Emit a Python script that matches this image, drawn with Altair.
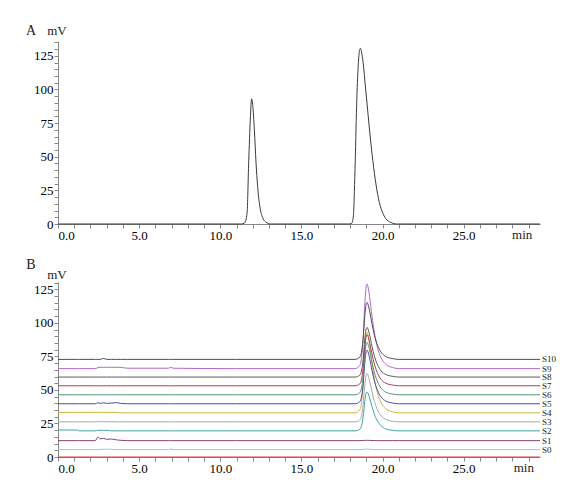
import altair as alt
import pandas as pd

# ---------------- Panel A ----------------
a_time = [0, 11.3, 11.5, 11.65, 11.75, 11.85, 11.93, 12.0, 12.1, 12.2, 12.3, 12.45, 12.6, 12.8, 13.1,
          17.9, 18.1, 18.2, 18.3, 18.4, 18.5, 18.58, 18.64, 18.7, 18.8, 18.95, 19.1, 19.22, 19.4,
          19.6, 19.8, 20.0, 20.2, 20.5, 20.9, 29.7]
a_mv = [0, 0, 0.8, 8, 46, 78, 93, 88, 70, 46, 28, 12, 5, 1.5, 0,
        0, 0.5, 6, 40, 88, 118, 129, 130.5, 128, 120, 101, 82, 67, 47,
        29, 16, 8.5, 4, 1.2, 0, 0]

# ---------------- Panel B ----------------
b_time = [0, 1.2, 1.3, 2.3, 2.45, 2.6, 2.8, 3.0, 3.3, 3.6, 3.9, 4.3, 6.8, 6.95, 7.1, 11.0,
          18.3, 18.6, 18.8, 18.9, 19.0, 19.05, 19.1, 19.2, 19.35, 19.5, 19.7, 19.9, 20.2, 20.6, 21.0, 29.7]

s10 = [72.8, 72.8, 72.8, 72.8, 72.8, 72.8, 73.5, 72.8, 72.8, 72.8, 72.8, 72.8, 72.8, 72.8, 72.8, 72.8,
       72.8, 74.5, 87.7, 104.7, 114.5, 115.3, 114.0, 108.9, 99.2, 90.7, 83.0, 78.3, 74.9, 73.4, 72.8, 72.8]
s9 = [65.9, 65.9, 65.9, 65.9, 66.6, 66.9, 66.9, 66.9, 66.9, 66.9, 66.8, 66.2, 66.2, 66.9, 66.2, 65.9,
      65.9, 68.4, 88.0, 113.2, 127.6, 128.9, 127.0, 119.5, 105.0, 92.4, 81.0, 74.1, 69.1, 66.8, 65.9, 65.9]
s8 = [59.6] * 16 + [59.6, 61.1, 72.6, 87.4, 95.9, 96.6, 95.5, 91.1, 82.5, 75.1, 68.5, 64.4, 61.5, 60.2, 59.6, 59.6]
s7 = [53.1] * 16 + [53.1, 54.6, 66.4, 81.6, 90.3, 91.1, 90.0, 85.4, 76.7, 69.1, 62.2, 58.0, 55.0, 53.7, 53.1, 53.1]
s6 = [46.4] * 16 + [46.4, 48.0, 60.1, 75.7, 84.6, 85.4, 84.2, 79.6, 70.6, 62.8, 55.8, 51.5, 48.4, 47.0, 46.4, 46.4]
s5 = [39.7, 39.7, 39.7, 39.7, 40.4, 40.0, 40.4, 40.0, 40.2, 40.5, 39.9, 39.7, 39.7, 39.7, 39.7, 39.7,
      39.7, 41.3, 53.7, 69.7, 78.9, 79.7, 78.5, 73.7, 64.5, 56.5, 49.3, 44.9, 41.7, 40.3, 39.7, 39.7]
s4 = [33.3, 33.3, 33.3, 33.3, 33.3, 33.3, 33.3, 33.3, 33.3, 33.3, 32.9, 32.9, 32.9, 32.9, 32.9, 32.9,
      32.9, 35.3, 53.9, 77.9, 91.7, 92.9, 91.1, 83.9, 70.1, 58.1, 47.3, 40.7, 35.9, 33.8, 32.9, 32.9]
s3 = [26.2, 26.2, 26.2, 26.2, 26.4, 26.2, 26.4, 26.2, 26.4, 26.2, 26.2, 26.2, 26.2, 26.2, 26.2, 26.2,
      26.2, 27.6, 38.8, 53.2, 61.5, 62.2, 61.1, 56.8, 48.5, 41.3, 34.8, 30.9, 28.0, 26.7, 26.2, 26.2]
s2 = [20.1, 20.1, 19.5, 19.5, 19.9, 19.9, 19.9, 19.9, 19.5, 19.5, 19.5, 19.5, 19.5, 19.5, 19.5, 19.5,
      19.5, 20.7, 29.7, 41.3, 47.9, 48.5, 47.6, 44.2, 37.5, 31.7, 26.5, 23.3, 21.0, 19.9, 19.5, 19.5]
s1 = [12.2, 12.2, 12.2, 12.2, 14.8, 13.6, 13.9, 13.2, 13.4, 12.8, 12.4, 12.2, 12.2, 12.2, 12.2, 12.2,
      12.2, 12.2, 12.3, 12.4, 12.4, 12.4, 12.4, 12.4, 12.3, 12.3, 12.2, 12.2, 12.2, 12.2, 12.2, 12.2]
s0 = [5.5, 5.5, 5.5, 5.5, 5.5, 5.7, 5.7, 5.9, 5.7, 5.5, 5.5, 5.5, 5.5, 6.0, 5.5, 5.5,
      5.5, 5.5, 5.6, 5.8, 6.0, 6.1, 6.0, 5.8, 5.6, 5.5, 5.5, 5.5, 5.5, 5.5, 5.5, 5.5]
blank = [0.0] * 32

trace_names = ["blank", "S0", "S1", "S2", "S3", "S4", "S5", "S6", "S7", "S8", "S9", "S10"]
trace_values = [blank, s0, s1, s2, s3, s4, s5, s6, s7, s8, s9, s10]
trace_colors = ["#d43c3c", "#7fd3d6", "#8a3f7a", "#3ea3a6", "#a8a8a8", "#d4b030",
                "#4b4ba8", "#4f9a6e", "#a63d5a", "#5c5c5c", "#b366cc", "#4d4d4d"]
label_names = ["S0", "S1", "S2", "S3", "S4", "S5", "S6", "S7", "S8", "S9", "S10"]
label_levels = [5.5, 12.2, 19.5, 26.2, 32.9, 39.7, 46.4, 53.1, 59.6, 65.9, 72.8]

x_ticks = list(range(0, 30))
ya_ticks = list(range(0, 140, 5))
yb_ticks = list(range(0, 135, 5))

FONT = "Liberation Serif"
W = 482
HA = 183
HB = 175
XMAX = 29.7

x_label_expr = "datum.value % 5 == 0 ? format(datum.value, '.1f') : ''"
y_label_expr = "datum.value % 25 == 0 ? format(datum.value, 'd') : ''"

x_scale = alt.Scale(domain=[0, XMAX], nice=False, zero=False)


def x_axis():
    return alt.Axis(values=x_ticks, labelExpr=x_label_expr, title=None, labelOverlap=False,
                    grid=False, labelFont=FONT, labelFontSize=13, tickSize=4, labelPadding=1)


def y_axis(vals):
    return alt.Axis(values=vals, labelExpr=y_label_expr, title=None, labelOverlap=False,
                    grid=False, labelFont=FONT, labelFontSize=13, tickSize=4, labelPadding=1)


one = pd.DataFrame({"k": [0]})
no_border = alt.ViewBackground(stroke=None)


def txt(s, x, y, size=13):
    return alt.Chart(one).mark_text(font=FONT, fontSize=size, color="#222").encode(
        text=alt.value(s), x=alt.value(x), y=alt.value(y))


# ---- A ----
dfA = pd.DataFrame({"t": a_time, "v": a_mv})
lineA = alt.Chart(dfA).mark_line(interpolate="monotone", color="#3a3a3a", strokeWidth=1).encode(
    x=alt.X("t:Q", scale=x_scale, axis=x_axis()),
    y=alt.Y("v:Q", scale=alt.Scale(domain=[0, 136], nice=False), axis=y_axis(ya_ticks)),
)
panelA = alt.layer(
    lineA,
    txt("A", -27, -10, 14),
    txt("mV", -1, -10),
    txt("min", W * 28.6 / XMAX, HA + 11),
).properties(width=W, height=HA, view=no_border)

# ---- B ----
rows = []
for name, vals in zip(trace_names, trace_values):
    for t, v in zip(b_time, vals):
        rows.append({"trace": name, "t": t, "v": v})
dfB = pd.DataFrame(rows)
yb_scale = alt.Scale(domain=[0, 130.5], nice=False)
lineB = alt.Chart(dfB).mark_line(interpolate="monotone", strokeWidth=1).encode(
    x=alt.X("t:Q", scale=x_scale, axis=x_axis()),
    y=alt.Y("v:Q", scale=yb_scale, axis=y_axis(yb_ticks)),
    color=alt.Color("trace:N", scale=alt.Scale(domain=trace_names, range=trace_colors), legend=None),
)
dfL = pd.DataFrame({"name": label_names, "lvl": label_levels, "t": [XMAX] * len(label_names)})
labelsB = alt.Chart(dfL).mark_text(font=FONT, fontSize=9, color="#222", align="left",
                                   baseline="middle", dx=2).encode(
    text="name:N",
    x=alt.X("t:Q", scale=x_scale, axis=x_axis()),
    y=alt.Y("lvl:Q", scale=yb_scale, axis=y_axis(yb_ticks)),
)
panelB = alt.layer(
    lineB, labelsB,
    txt("B", -27, -17, 14),
    txt("mV", -1, -7),
    txt("min", W * 28.7 / XMAX, HB + 11),
).properties(width=W, height=HB, view=no_border)

chart = alt.vconcat(panelA, panelB, spacing=16).properties(
    padding={"left": 17, "top": 16, "right": 0, "bottom": 0}
).configure_axis(
    labelFont=FONT, labelFontSize=13, labelColor="#333", domainColor="#444", tickColor="#444",
    grid=False, tickSize=4, labelPadding=1, domainWidth=1,
).configure_view(stroke=None).configure(background="white")

chart.save("out.html", embed_options={"renderer": "svg", "actions": False})
